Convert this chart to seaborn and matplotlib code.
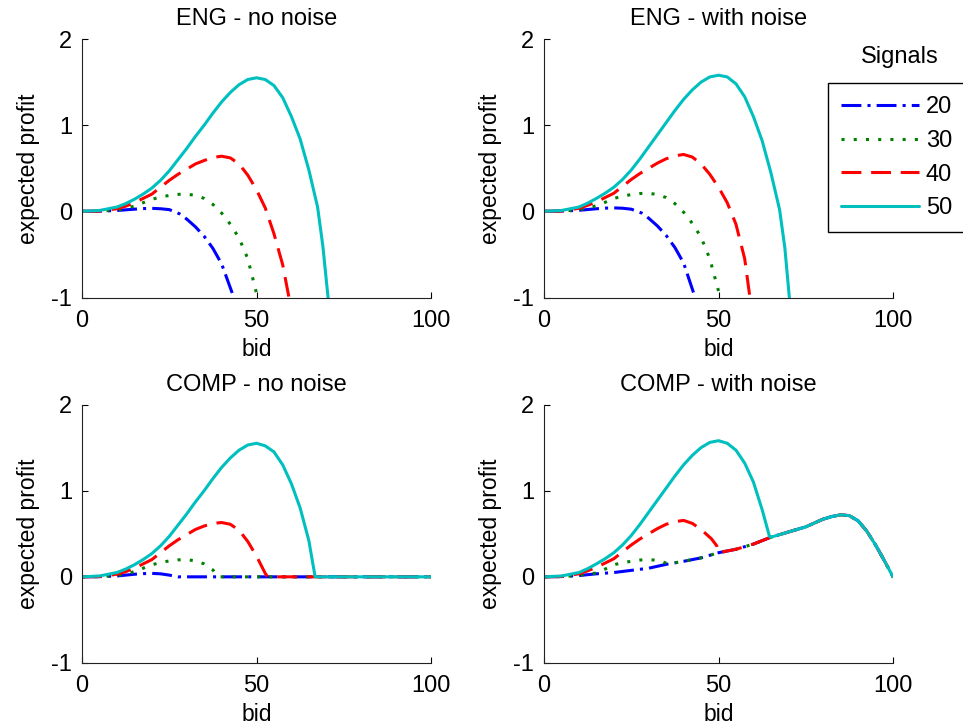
import pandas as pd
import seaborn as sns
import matplotlib
matplotlib.use('Agg')
import matplotlib.pyplot as plt

# legend levels and panel titles
signals = ['20', '30', '40', '50']
titles = ['ENG - no noise', 'ENG - with noise', 'COMP - no noise', 'COMP - with noise']

# ENG - no noise
eng_bid_20 = [0, 5, 10, 15, 17.5, 20, 22.5, 25, 28, 30, 32.5, 35, 37.5, 40, 43.5]
eng_val_20 = [0, 0.002, 0.01, 0.025, 0.032, 0.035, 0.03, 0.02, -0.03, -0.09, -0.18, -0.29, -0.43, -0.61, -1.0]
eng_bid_30 = [0, 5, 10, 12.5, 15, 17.5, 20, 22.5, 25, 27.5, 30, 32.5, 35, 37.5, 40, 42.5, 45, 47.5, 50.3]
eng_val_30 = [0, 0.002, 0.015, 0.035, 0.06, 0.1, 0.14, 0.165, 0.185, 0.197, 0.2, 0.185, 0.15, 0.08, -0.02, -0.15, -0.31, -0.55, -1.0]
eng_bid_40 = [0, 5, 10, 12.5, 15, 17.5, 20, 22.5, 25, 27.5, 30, 32.5, 35, 37.5, 40, 42.5, 45, 47.5, 50, 52.5, 55, 57.5, 59.3]
eng_val_40 = [0, 0.003, 0.03, 0.06, 0.1, 0.15, 0.2, 0.28, 0.36, 0.43, 0.49, 0.55, 0.59, 0.625, 0.64, 0.62, 0.55, 0.42, 0.25, 0.04, -0.26, -0.62, -1.0]
eng_bid_50 = [0, 5, 10, 12.5, 15, 17.5, 20, 22.5, 25, 27.5, 30, 32.5, 35, 37.5, 40, 42.5, 45, 47.5, 50,
              52.5, 55, 57.5, 60, 62.5, 65, 67.5, 69, 70.5]
eng_val_50 = [0, 0.01, 0.05, 0.09, 0.14, 0.2, 0.27, 0.36, 0.47, 0.6, 0.73, 0.87, 1.0, 1.14, 1.27, 1.38, 1.47, 1.53, 1.55,
              1.53, 1.46, 1.32, 1.1, 0.84, 0.48, 0.05, -0.4, -1.0]

# ENG - with noise
engn_bid_20 = [0, 5, 10, 15, 17.5, 20, 22.5, 25, 28, 30, 32.5, 35, 37.5, 40, 43.3]
engn_val_20 = [0, 0.003, 0.012, 0.03, 0.037, 0.04, 0.036, 0.025, -0.02, -0.08, -0.17, -0.28, -0.42, -0.6, -1.0]
engn_bid_30 = [0, 5, 10, 12.5, 15, 17.5, 20, 22.5, 25, 27.5, 30, 32.5, 35, 37.5, 40, 42.5, 45, 47.5, 50.5]
engn_val_30 = [0, 0.003, 0.017, 0.038, 0.065, 0.105, 0.15, 0.175, 0.195, 0.207, 0.21, 0.195, 0.16, 0.09, -0.01, -0.14, -0.3, -0.55, -1.0]
engn_bid_40 = [0, 5, 10, 12.5, 15, 17.5, 20, 22.5, 25, 27.5, 30, 32.5, 35, 37.5, 40, 42.5, 45, 47.5, 50, 52.5, 55, 57.5, 59.0]
engn_val_40 = [0, 0.004, 0.035, 0.07, 0.11, 0.16, 0.21, 0.29, 0.37, 0.44, 0.5, 0.56, 0.61, 0.645, 0.66, 0.63, 0.55, 0.43, 0.28, 0.1, -0.15, -0.55, -1.0]
engn_bid_50 = [0, 5, 10, 12.5, 15, 17.5, 20, 22.5, 25, 27.5, 30, 32.5, 35, 37.5, 40, 42.5, 45, 47.5, 50,
               52.5, 55, 57.5, 60, 62.5, 65, 67.5, 69, 70.3]
engn_val_50 = [0, 0.01, 0.05, 0.095, 0.15, 0.21, 0.28, 0.37, 0.48, 0.61, 0.75, 0.89, 1.03, 1.17, 1.3, 1.41, 1.5, 1.56, 1.58,
               1.56, 1.48, 1.33, 1.1, 0.82, 0.45, 0.02, -0.42, -1.0]

# COMP - no noise
comp_bid_20 = [0, 5, 10, 15, 17.5, 20, 22.5, 25, 27.5, 100]
comp_val_20 = [0, 0.002, 0.01, 0.03, 0.037, 0.04, 0.035, 0.02, 0, 0]
comp_bid_30 = [0, 5, 10, 12.5, 15, 17.5, 20, 22.5, 25, 27.5, 30, 32.5, 35, 37.5, 39, 100]
comp_val_30 = [0, 0.002, 0.015, 0.035, 0.06, 0.1, 0.14, 0.165, 0.185, 0.197, 0.2, 0.185, 0.15, 0.08, 0, 0]
comp_bid_40 = [0, 5, 10, 12.5, 15, 17.5, 20, 22.5, 25, 27.5, 30, 32.5, 35, 37.5, 40, 42.5, 45, 47.5, 50, 52.5, 53.2, 100]
comp_val_40 = [0, 0.003, 0.03, 0.06, 0.1, 0.15, 0.2, 0.28, 0.36, 0.43, 0.49, 0.55, 0.59, 0.62, 0.63, 0.61, 0.54, 0.41, 0.24, 0.04, 0, 0]
comp_bid_50 = [0, 5, 10, 12.5, 15, 17.5, 20, 22.5, 25, 27.5, 30, 32.5, 35, 37.5, 40, 42.5, 45, 47.5, 50,
               52.5, 55, 57.5, 60, 62.5, 65, 66.8, 100]
comp_val_50 = [0, 0.01, 0.05, 0.09, 0.14, 0.2, 0.27, 0.36, 0.47, 0.6, 0.73, 0.87, 1.0, 1.14, 1.27, 1.38, 1.47, 1.53, 1.55,
               1.52, 1.45, 1.3, 1.08, 0.8, 0.42, 0, 0]

# COMP - with noise: shared tail curve and each signal's own rise
tail_bid = [35, 40, 45, 50, 55, 60, 65, 70, 75, 80, 82.5, 85, 87.5, 90, 92.5, 95, 97.5, 100]
tail_val = [0.145, 0.18, 0.22, 0.28, 0.32, 0.38, 0.46, 0.52, 0.58, 0.67, 0.7, 0.72, 0.71, 0.65, 0.53, 0.37, 0.19, 0]
compn_bid_20 = [0, 5, 10, 15, 20, 25, 30]
compn_val_20 = [0, 0.003, 0.015, 0.035, 0.05, 0.075, 0.1]
compn_bid_30 = [0, 5, 10, 12.5, 15, 17.5, 20, 22.5, 25, 27.5, 30, 33, 35.5]
compn_val_30 = [0, 0.003, 0.017, 0.03, 0.045, 0.09, 0.14, 0.165, 0.18, 0.195, 0.2, 0.19, 0.15]
compn_bid_40 = [0, 5, 10, 12.5, 15, 17.5, 20, 22.5, 25, 27.5, 30, 32.5, 35, 37.5, 40, 42.5, 45, 48, 49.5]
compn_val_40 = [0, 0.004, 0.035, 0.07, 0.11, 0.16, 0.21, 0.29, 0.37, 0.44, 0.5, 0.56, 0.61, 0.64, 0.655, 0.62, 0.55, 0.44, 0.36]
compn_bid_50 = [0, 5, 10, 12.5, 15, 17.5, 20, 22.5, 25, 27.5, 30, 32.5, 35, 37.5, 40, 42.5, 45, 47.5, 50,
                52.5, 55, 57.5, 60, 62.5, 64.6]
compn_val_50 = [0, 0.01, 0.05, 0.095, 0.15, 0.21, 0.28, 0.37, 0.48, 0.61, 0.75, 0.89, 1.03, 1.17, 1.3, 1.41, 1.5, 1.56, 1.58,
                1.55, 1.47, 1.32, 1.1, 0.78, 0.47]


def make_frame(bids, vals):
    rows = []
    for sig, b, v in zip(signals, bids, vals):
        rows.append(pd.DataFrame({'signal': sig, 'bid': b, 'profit': v}))
    return pd.concat(rows, ignore_index=True)


panels = [
    make_frame([eng_bid_20, eng_bid_30, eng_bid_40, eng_bid_50],
               [eng_val_20, eng_val_30, eng_val_40, eng_val_50]),
    make_frame([engn_bid_20, engn_bid_30, engn_bid_40, engn_bid_50],
               [engn_val_20, engn_val_30, engn_val_40, engn_val_50]),
    make_frame([comp_bid_20, comp_bid_30, comp_bid_40, comp_bid_50],
               [comp_val_20, comp_val_30, comp_val_40, comp_val_50]),
    make_frame([compn_bid_20 + tail_bid, compn_bid_30 + tail_bid[1:],
                compn_bid_40 + tail_bid[3:], compn_bid_50 + tail_bid[6:]],
               [compn_val_20 + tail_val, compn_val_30 + tail_val[1:],
                compn_val_40 + tail_val[3:], compn_val_50 + tail_val[6:]]),
]

palette = {'20': '#0000ff', '30': '#008000', '40': '#ff0000', '50': '#00bfbf'}
dashes = {'20': (6.5, 2, 1, 2), '30': (1, 3), '40': (6.5, 3.2), '50': ''}

sns.set_style('ticks')
plt.rcParams['font.family'] = ['Liberation Sans', 'DejaVu Sans']
plt.rcParams['font.size'] = 16
plt.rcParams['axes.unicode_minus'] = False
plt.rcParams['text.color'] = 'black'
plt.rcParams['axes.labelcolor'] = 'black'
plt.rcParams['xtick.color'] = 'black'
plt.rcParams['ytick.color'] = 'black'

fig, axes = plt.subplots(2, 2, figsize=(9.63, 7.28), dpi=100)
fig.subplots_adjust(left=0.0852, right=0.9273, bottom=0.0893, top=0.9464,
                    wspace=0.324, hspace=0.414)

for i, ax in enumerate(axes.flat):
    sns.lineplot(data=panels[i], x='bid', y='profit', hue='signal', style='signal',
                 palette=palette, dashes=dashes, hue_order=signals, style_order=signals,
                 estimator=None, sort=False, linewidth=2.2, ax=ax, legend=(i == 1))
    for line in ax.get_lines():
        line.set_solid_joinstyle('round')
        line.set_dash_joinstyle('round')
    ax.set_xlim(0, 100)
    ax.set_ylim(-1, 2)
    ax.set_xticks([0, 50, 100])
    ax.set_yticks([-1, 0, 1, 2])
    ax.set_title(titles[i], pad=10, fontsize=17)
    ax.set_xlabel('bid', labelpad=4, fontsize=16.5)
    ax.set_ylabel('expected profit', labelpad=8, fontsize=16.5)
    ax.tick_params(axis='x', direction='in', length=4, width=0.8, pad=9, labelsize=17)
    ax.tick_params(axis='y', direction='in', length=4, width=0.8, pad=7, labelsize=17)
    sns.despine(ax=ax)
    for side in ['left', 'bottom']:
        ax.spines[side].set_linewidth(0.8)
        ax.spines[side].set_color('#222222')

# pull the seaborn legend out and put it at the right edge of the figure
leg = axes[0, 1].get_legend()
handles = leg.legend_handles
labels = [t.get_text() for t in leg.get_texts()]
leg.remove()
for h in handles:
    h.set_linewidth(2.2)
lg = fig.legend(handles, labels, loc='upper left', bbox_to_anchor=(828 / 963, 1 - 83 / 728),
                borderaxespad=0, frameon=True, fancybox=False, framealpha=1,
                edgecolor='black', handlelength=3.3, handletextpad=0.3,
                borderpad=0.55, labelspacing=0.5, fontsize=17)
lg.get_frame().set_linewidth(1.0)
fig.text(900 / 963, 1 - 57 / 728, 'Signals', ha='center', va='center', fontsize=17)

fig.savefig('out.png', dpi=100)
